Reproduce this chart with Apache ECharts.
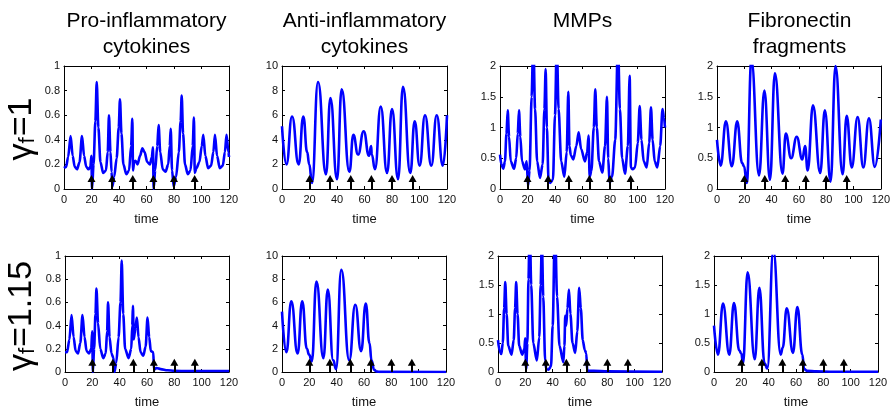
<!DOCTYPE html>
<html><head><meta charset="utf-8">
<script src="https://cdn.jsdelivr.net/npm/echarts@6/dist/echarts.min.js"></script>
<style>html,body{margin:0;padding:0;background:#fff}#c{width:893px;height:410px}</style>
</head><body><div id="c"></div>
<script>
const columnTitles = ['Pro-inflammatory\ncytokines', 'Anti-inflammatory\ncytokines', 'MMPs', 'Fibronectin\nfragments'];
const rowLabels = [['γ', 'f', '=1'], ['γ', 'f', '=1.15']];
const yMaxes = [1, 10, 2, 2];
const yIntervals = [0.2, 2, 0.5, 0.5];
const xMin = 0, xMax = 120, xInterval = 20;
const treatmentTimes = [20, 35, 50, 65, 80, 95];

const proG1 = [[0,0.17],[1.5,0.18],[3,0.26],[4.8,0.43],[6.3,0.27],[7.8,0.18],[9.5,0.16],[11.3,0.22],[13.1,0.43],[14.6,0.27],[16.2,0.18],[17.8,0.16],[19.2,0.18],[19.9,0.27],[20.4,0.0],[21.5,0.2],[22.8,0.55],[23.8,0.87],[25,0.5],[26.5,0.22],[28.5,0.13],[30.5,0.15],[31.8,0.3],[32.7,0.6],[33.8,0.3],[34.6,0.14],[35.2,0.02],[36.5,0.1],[38.3,0.25],[39.8,0.5],[40.7,0.73],[41.8,0.45],[43.2,0.2],[45.3,0.12],[47.3,0.15],[48.8,0.35],[49.7,0.57],[50.2,0.15],[51,0.22],[52,0.23],[53.5,0.2],[55.3,0.27],[57,0.33],[58.6,0.3],[60.5,0.22],[62.5,0.2],[63.9,0.26],[64.7,0.34],[65.2,0.0],[66.3,0.15],[67.8,0.35],[68.8,0.52],[70,0.3],[71.8,0.16],[73.8,0.14],[75.8,0.2],[76.9,0.35],[77.6,0.49],[78.6,0.15],[79.8,0.02],[81.5,0.1],[83.5,0.3],[84.8,0.55],[85.6,0.76],[86.6,0.45],[88,0.2],[90,0.12],[92,0.15],[93.6,0.35],[94.5,0.58],[95.1,0.13],[96.3,0.17],[98.5,0.22],[100.2,0.35],[101.3,0.44],[102.8,0.27],[104.8,0.17],[107,0.19],[108.6,0.3],[109.8,0.44],[111.3,0.27],[113.3,0.17],[115.5,0.19],[117,0.3],[118.2,0.44],[119.6,0.3],[120,0.26]];
const antiG1 = [[0,5.1],[3.2,2.0],[7.3,5.9],[12.1,2.0],[15.5,5.9],[18.3,3.0],[19.8,2.0],[21.8,0.5],[26.2,8.7],[32,1.2],[35.2,7.4],[40,0.8],[43.4,8.1],[49,1.4],[51.9,4.4],[55.3,2.8],[59.4,4.7],[63.3,2.7],[64.8,3.5],[65.3,2.8],[67.6,1.6],[71.8,6.7],[76.4,1.3],[80,6.5],[84.4,0.8],[88,8.3],[93.3,1.3],[96.5,5.5],[100.1,1.9],[104,6.0],[108.6,1.9],[112.5,6.0],[117,1.9],[120,6.0]];
const mmpG1 = [[0,0.56],[1,0.4],[2.4,0.33],[3.6,0.45],[4.7,0.9],[5.6,1.28],[6.6,0.85],[7.8,0.45],[10.2,0.33],[11.8,0.5],[12.9,0.9],[13.8,1.28],[14.8,0.85],[16,0.45],[18.2,0.32],[19.4,0.45],[20.4,0.05],[21.5,0.3],[23,1.5],[24.2,2.5],[25.5,1.3],[27,0.45],[29.1,0.18],[31,0.4],[32.3,1.3],[33.2,1.95],[34.1,1.0],[35.3,0.15],[36.5,0.1],[38.5,0.15],[40,1.2],[41.3,2.4],[42.6,1.3],[44.5,0.45],[46.8,0.2],[48.5,0.6],[49.7,1.58],[50.5,0.7],[51.5,0.55],[53.3,0.48],[55.5,0.7],[57.2,0.92],[59,0.65],[61.8,0.45],[63.4,0.6],[64.4,0.87],[65.2,0.2],[66.5,0.3],[68.2,1.0],[69.3,1.62],[70.4,1.0],[72,0.45],[74.4,0.27],[76.4,0.7],[77.8,1.5],[78.7,0.5],[79.7,0.1],[81.5,0.2],[83.8,0.8],[85.8,2.4],[87.2,1.3],[88.8,0.5],[90.9,0.25],[93,0.7],[94.3,1.84],[95.2,0.35],[96.5,0.32],[98.2,0.35],[100.2,0.75],[101.6,1.35],[102.9,0.8],[104.5,0.45],[106.7,0.35],[108.5,0.75],[109.8,1.33],[111,0.8],[112.5,0.45],[114.4,0.35],[116.5,0.7],[118.2,1.3],[119.3,1.15],[120,1.0]];
const fibG1 = [[0,0.8],[2.7,0.38],[6.5,1.1],[10.9,0.37],[14.8,1.1],[18.4,0.42],[19.8,0.37],[21.8,0.1],[25.2,2.1],[30.8,0.22],[34.7,1.6],[38.8,0.15],[42.4,1.88],[48,0.25],[50.4,0.9],[54.3,0.5],[58.4,0.85],[62.5,0.48],[64.5,0.7],[66.4,0.3],[70.3,1.36],[75.6,0.26],[79,1.28],[83.2,0.12],[86.8,2.0],[92,0.24],[95,1.19],[98.7,0.35],[103,1.17],[107.2,0.35],[111.3,1.15],[115.6,0.36],[120,1.13]];

const proG2 = [[0,0.17],[1.5,0.17],[3.2,0.28],[4.8,0.49],[6.3,0.3],[7.8,0.18],[9.5,0.16],[11.2,0.25],[12.8,0.49],[14.3,0.3],[15.8,0.18],[17.6,0.16],[19.2,0.2],[19.9,0.35],[20.4,0.0],[21.3,0.2],[22.3,0.5],[23,0.72],[24.2,0.42],[25.8,0.2],[28,0.12],[29.8,0.16],[30.8,0.35],[31.5,0.6],[32.6,0.3],[34,0.16],[35.5,0.12],[36.2,0.0],[37.5,0.08],[39.2,0.3],[40.6,0.6],[41.5,0.96],[42.6,0.5],[44,0.2],[46.5,0.12],[48.5,0.2],[49.2,0.4],[49.7,0.57],[50.3,0.28],[51.5,0.38],[52.6,0.47],[53.8,0.3],[55.3,0.17],[57.3,0.14],[59,0.22],[60.4,0.47],[61.6,0.3],[62.8,0.18],[64.6,0.17],[65.1,0.02],[67,0.035],[70,0.025],[75,0.015],[80,0.01],[90,0.008],[120,0.008]];
const antiG2 = [[0,5.2],[3.2,1.7],[6.8,6.1],[11.4,1.6],[14.8,6.1],[18.2,2.0],[19.8,1.5],[21.8,0.9],[25.2,7.8],[30.3,1.2],[33.5,7.1],[37.5,1.0],[39.5,0.25],[43.4,8.8],[49.2,1.0],[53.6,5.8],[57.9,1.8],[61.3,5.9],[64,2.5],[65.5,1.0],[67.4,0.2],[69,0.05],[72,0.01],[120,0.0]];
const mmpG2 = [[0,0.55],[1,0.38],[2.4,0.31],[3.5,0.5],[4.5,1.1],[5.3,1.55],[6.3,1.0],[7.5,0.45],[9.9,0.3],[11.5,0.55],[12.5,1.1],[13.3,1.55],[14.3,1.0],[15.5,0.45],[17.7,0.3],[19.3,0.4],[19.9,0.58],[20.6,0.05],[21.5,0.5],[22.3,1.6],[23.2,2.6],[24.3,1.5],[25.8,0.5],[28.4,0.2],[30.2,0.6],[31.2,1.5],[32.1,2.3],[33.1,1.3],[34.5,0.2],[35.3,0.05],[37,0.04],[38.8,0.1],[40,0.8],[41.7,2.6],[43.2,1.3],[45,0.45],[47.8,0.17],[48.6,0.45],[49.2,0.97],[49.9,0.8],[50.8,1.1],[51.9,1.42],[53,1.0],[54.5,0.5],[56.5,0.33],[58,0.7],[59.4,1.45],[60.6,1.1],[62,0.55],[63.5,0.38],[64.6,0.32],[65.3,0.02],[70,0.02],[80,0.01],[120,0.005]];
const fibG2 = [[0,0.8],[2.9,0.3],[6.6,1.18],[11.2,0.3],[14.6,1.19],[18.5,0.37],[20,0.32],[21.2,0.15],[24.6,1.72],[29.8,0.22],[33.2,1.45],[37,0.15],[39,0.06],[43.4,2.1],[48.8,0.3],[50.3,0.42],[53.2,1.1],[57.8,0.33],[61,1.12],[64.6,0.3],[66,0.05],[68,0.02],[75,0.01],[85,0.005],[120,0.005]];

const curves = [proG1, antiG1, mmpG1, fibG1, proG2, antiG2, mmpG2, fibG2];
const smoothness = [0.3, 0.5, 0.3, 0.45, 0.3, 0.5, 0.3, 0.45];

const rowTop = [66, 256];
const rowLefts = [[64, 282, 500, 717], [65, 282, 498, 714]];
const rowWidths = [165, 164];
const plotH = 123;
const FONT = 'Liberation Sans, Arial, sans-serif';

const grids = [], xAxes = [], yAxes = [], series = [];
for (let r = 0; r < 2; r++) {
  for (let c = 0; c < 4; c++) {
    const i = r * 4 + c;
    grids.push({left: rowLefts[r][c], top: rowTop[r], width: rowWidths[r], height: plotH, show: false});
    const axLine = {show: true, onZero: false, lineStyle: {color: '#000', width: 1}};
    const tick = {show: true, inside: true, length: 3, lineStyle: {color: '#000', width: 1}};
    xAxes.push({gridIndex: i, type: 'value', min: xMin, max: xMax, interval: xInterval, position: 'bottom',
      axisLine: axLine, axisTick: tick, splitLine: {show: false},
      axisLabel: {color: '#111', fontSize: 11, margin: 5, fontFamily: FONT},
      name: 'time', nameLocation: 'middle', nameGap: 24,
      nameTextStyle: {color: '#111', fontSize: 13, fontFamily: FONT}});
    xAxes.push({gridIndex: i, type: 'value', min: xMin, max: xMax, interval: xInterval, position: 'top',
      axisLine: axLine, axisTick: tick, splitLine: {show: false}, axisLabel: {show: false}});
    yAxes.push({gridIndex: i, type: 'value', min: 0, max: yMaxes[c], interval: yIntervals[c], position: 'left',
      axisLine: axLine, axisTick: tick, splitLine: {show: false},
      axisLabel: {color: '#111', fontSize: 11, margin: 4, fontFamily: FONT}});
    yAxes.push({gridIndex: i, type: 'value', min: 0, max: yMaxes[c], interval: yIntervals[c], position: 'right',
      axisLine: axLine, axisTick: tick, splitLine: {show: false}, axisLabel: {show: false}});
    series.push({type: 'line', xAxisIndex: 2 * i, yAxisIndex: 2 * i, data: curves[i],
      smooth: smoothness[i], smoothMonotone: 'x', showSymbol: false, clip: true,
      lineStyle: {color: '#0000ff', width: 2.6}, z: 3, silent: true});
    const h = yMaxes[c] * 0.085;
    series.push({type: 'line', xAxisIndex: 2 * i, yAxisIndex: 2 * i,
      data: treatmentTimes.map(t => [t, 0]), showSymbol: false, lineStyle: {width: 0, opacity: 0}, z: 5, silent: true,
      markLine: {silent: true, symbol: ['none', 'triangle'], symbolSize: [8, 7], animation: false,
        label: {show: false}, lineStyle: {color: '#000', width: 2, type: 'solid'},
        emphasis: {disabled: true},
        data: treatmentTimes.map(t => [{coord: [t, 0]}, {coord: [t, h]}])}});
  }
}

const graphics = [];
for (let c = 0; c < 4; c++) {
  graphics.push({type: 'text', x: rowLefts[0][c] + rowWidths[0] / 2, y: 8,
    style: {text: columnTitles[c], fill: '#000', font: '21px ' + FONT, lineHeight: 26,
      textAlign: 'center', align: 'center', textVerticalAlign: 'top', verticalAlign: 'top'}});
}
const rowCenters = [129, 316];
for (let r = 0; r < 2; r++) {
  graphics.push({type: 'text', x: 22, y: rowCenters[r], rotation: Math.PI / 2,
    style: {text: '{g|' + rowLabels[r][0] + '}{s|' + rowLabels[r][1] + '}{g|' + rowLabels[r][2] + '}',
      fill: '#000', textAlign: 'center', align: 'center', textVerticalAlign: 'middle', verticalAlign: 'middle',
      rich: {g: {font: '34px ' + FONT, fontSize: 34, fill: '#000', verticalAlign: 'bottom'},
             s: {font: 'italic 22px ' + FONT, fontSize: 22, fill: '#000', verticalAlign: 'bottom', padding: [0, 1, 0, 0]}}}});
}

const chart = echarts.init(document.getElementById('c'), null, {renderer: 'canvas'});
chart.setOption({animation: false, grid: grids, xAxis: xAxes, yAxis: yAxes, series: series, graphic: graphics});
</script></body></html>
